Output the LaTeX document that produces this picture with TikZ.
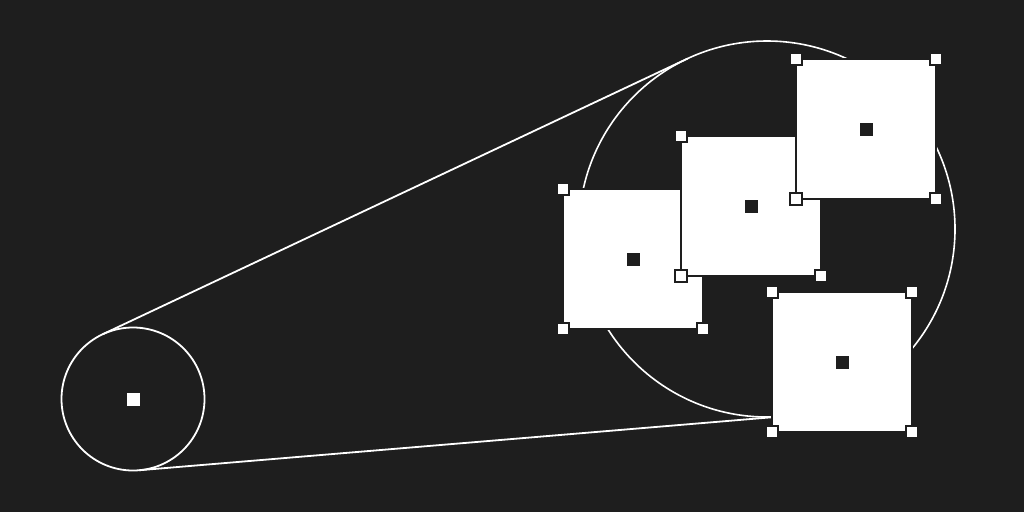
\documentclass[tikz,border=0pt]{standalone}
\usepackage{xcolor}
\definecolor{canvas}{HTML}{1E1E1E}

\begin{document}
\begin{tikzpicture}[
    x=1pt, y=-1pt,
    every node/.style = {inner sep=0pt, outer sep=0pt},
    ring/.style = {shape=circle, draw=white, line width=1.8pt},
    tile/.style = {shape=rectangle, fill=white, draw=canvas,
      line width=2pt, minimum size=140pt},
    grip/.style = {shape=rectangle, fill=white, draw=canvas,
      line width=1.6pt, minimum size=12pt},
    dot/.style = {shape=rectangle, fill=canvas, minimum size=13pt}]
  \fill[canvas] (0,0) rectangle (1024,512);
  \useasboundingbox (0,0) rectangle (1024,512);
  % magnified area and its source
  \node[ring, minimum size=376pt, line width=1.6pt] (zoom) at (767,229) {};
  \node[ring, minimum size=143pt] (lens) at (133,399) {};
  \node[shape=rectangle, fill=white, minimum size=13pt] (pin) at (lens) {};
  \draw[white, line width=1.8pt] (lens.115) -- (zoom.115);
  \draw[white, line width=1.8pt] (lens.-85) -- (zoom.-85);
  % selected layers
  \foreach \n/\x/\y in {a/633/259, b/751/206, c/866/129, d/842/362} {
    \node[tile] (tile\n) at (\x,\y) {};
    \foreach \c/\k in {north west/nw, north east/ne,
                       south west/sw, south east/se}
      \node[grip] (grip\n\k) at (tile\n.\c) {};
    \node[dot] (dot\n) at (tile\n) {};
  }
\end{tikzpicture}
\end{document}
